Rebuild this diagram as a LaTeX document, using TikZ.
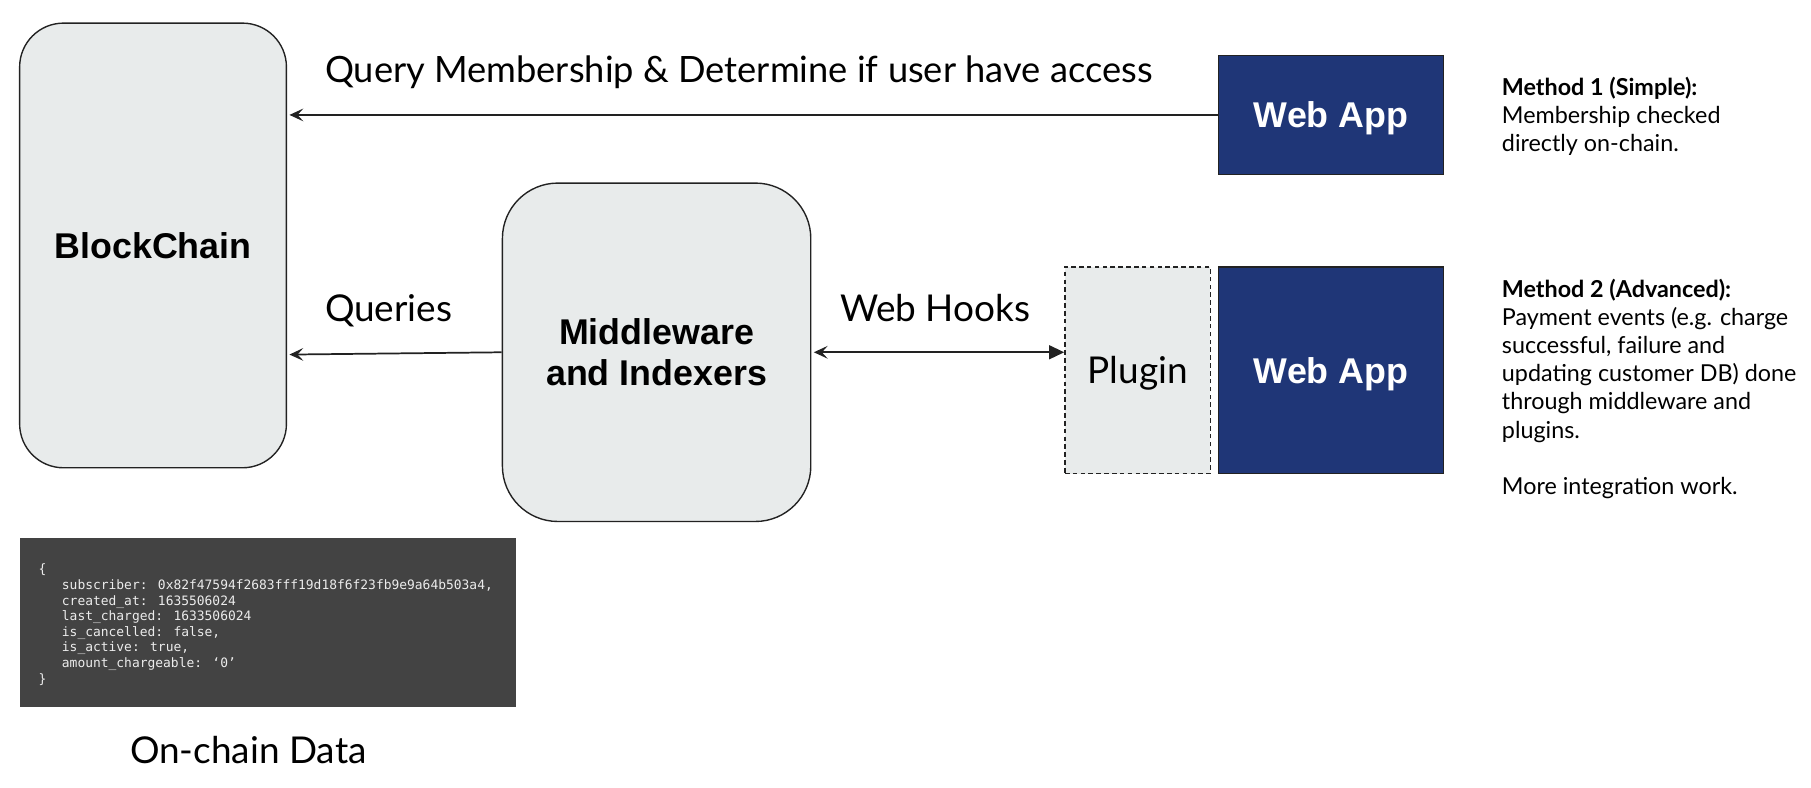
\documentclass[tikz,border=0pt]{standalone}
\usepackage{fontspec}
\setmainfont{Lato}
\newfontfamily\headfont{Liberation Sans}
\newfontfamily\codefont{DejaVu Sans Mono}
\usetikzlibrary{arrows.meta}
\definecolor{boxfill}{RGB}{232,235,235}
\definecolor{navy}{RGB}{31,54,119}
\definecolor{codebg}{RGB}{67,67,67}
\definecolor{codefg}{RGB}{236,236,236}
\definecolor{linec}{RGB}{34,34,34}
\tikzset{
  softbox/.style={draw=linec, line width=0.6pt, fill=boxfill, rounded corners=#1, inner sep=0pt},
  appbox/.style={draw=linec, line width=0.6pt, fill=navy, text=white, font=\headfont\bfseries\fontsize{15.5pt}{18pt}\selectfont,
    minimum width=97.5pt, minimum height=#1, inner sep=0pt, text height=11.1pt, text depth=0pt},
  headtext/.style={font=\headfont\bfseries\fontsize{15.5pt}{18pt}\selectfont, align=center},
  lbl/.style={font=\fontsize{16pt}{19pt}\selectfont, inner sep=0pt},
  note/.style={font=\fontsize{10.1pt}{12.2pt}\selectfont, align=left, inner sep=0pt, anchor=north west},
  arr/.style={draw=linec, line width=0.75pt, -{Stealth[length=6pt,width=5.5pt,inset=2.5pt]}, shorten >=1pt},
  darr/.style={draw=linec, line width=0.75pt, {Stealth[length=6pt,width=5.5pt,inset=2.5pt]}-{Triangle[length=6.5pt,width=6pt]}, shorten <=1pt}
}
\begin{document}
\begin{tikzpicture}[x=0.5pt,y=-0.5pt]
\useasboundingbox (0,0) rectangle (1568,682);
% boxes
\node[softbox=19pt, minimum width=115.5pt, minimum height=192.5pt, headtext, text height=11.1pt, text depth=0pt] (bc) at (132.5,212.5) {BlockChain};
\node[softbox=24pt, minimum width=133.5pt, minimum height=146.5pt, headtext] (mw) at (568.5,305) {Middleware\\and Indexers};
\node[appbox=51.5pt] (wa1) at (1152.5,99.5) {Web App};
\node[draw=linec, line width=0.6pt, dash pattern=on 2pt off 1.4pt, fill=boxfill, minimum width=63pt, minimum height=89.5pt, inner sep=0pt,
  font=\fontsize{16pt}{19pt}\selectfont, text height=11.5pt, text depth=0pt] (pl) at (985,320.5) {Plugin};
\node[appbox=89.5pt] (wa2) at (1152.5,320.5) {Web App};
% connectors
\draw[arr] (wa1.west) -- (bc.east |- wa1.west);
\draw[arr] (mw.west) -- ([yshift=-1pt]bc.east |- mw.west);
\draw[darr] (mw.east) -- (pl.west |- mw.east);
% labels
\node[lbl, anchor=base west, font=\fontsize{15.7pt}{19pt}\selectfont] (l1) at (281,71) {Query Membership \& Determine if user have access};
\node[lbl, anchor=base west] (l2) at (281,278) {Queries};
\node[lbl, anchor=base west] (l3) at (727,278) {Web Hooks};
% code block
\node[fill=codebg, minimum width=215pt, minimum height=73pt, inner sep=0pt] (code) at (232,539) {};
\node[font=\codefont\fontsize{5.6pt}{6.75pt}\selectfont, text=codefg, align=left, inner sep=0pt, anchor=north west] (codetxt) at (33,488) {%
\{\\
\phantom{xxx}subscriber: 0x82f47594f2683fff19d18f6f23fb9e9a64b503a4,\\
\phantom{xxx}created\_at: 1635506024\\
\phantom{xxx}last\_charged: 1633506024\\
\phantom{xxx}is\_cancelled: false,\\
\phantom{xxx}is\_active: true,\\
\phantom{xxx}amount\_chargeable: ‘0’\\
\}};
\node[lbl] (ocd) at (215,649) {On-chain Data};
% notes
\node[note] (n1) at (1300,66) {\textbf{Method 1 (Simple):}\\Membership checked\\directly on-chain.};
\node[note] (n2) at (1300,241) {\textbf{Method 2 (Advanced):}\\Payment events (e.g. charge\\successful, failure and\\updating customer DB) done\\through middleware and\\plugins.\\[12.2pt]More integration work.};
\end{tikzpicture}
\end{document}
